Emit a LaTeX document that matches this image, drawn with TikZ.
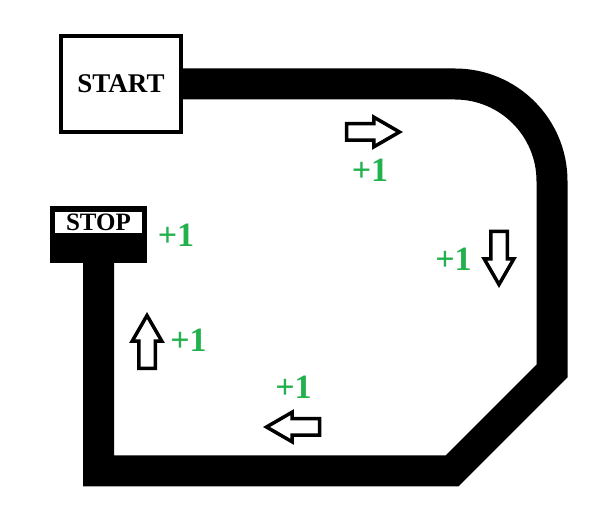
\documentclass[tikz,border=0pt]{standalone}
\usepackage{fontspec}
\setmainfont{Liberation Serif}
\usepackage{tikz}
\usetikzlibrary{shapes,arrows,positioning}
\definecolor{pointgreen}{RGB}{34,177,76}

\begin{document}
\begin{tikzpicture}[x=1pt, y=1pt,
    startbox/.style={draw, line width=4pt, fill=white, minimum width=120pt, minimum height=96pt,
      inner sep=0pt, font=\bfseries\fontsize{27}{27}\selectfont},
    stopsign/.style={fill=black, minimum width=97pt, minimum height=57pt, inner sep=0pt},
    stoplabel/.style={fill=white, minimum width=87pt, minimum height=21pt, inner sep=0pt,
      font=\bfseries\fontsize{25}{25}\selectfont},
    dir/.style={single arrow, draw, fill=white, line width=3.5pt, line join=miter, inner sep=6.5pt,
      minimum height=53pt, single arrow head extend=6.5pt, single arrow tip angle=60, anchor=tip},
    point/.style={text=pointgreen, inner sep=0pt, font=\bfseries\fontsize{34}{34}\selectfont}]
    % Sizes
    \pgfmathsetmacro{\trackw}{31}
    \useasboundingbox (0,0) rectangle (614,530);

    % boxes
    \node[startbox] (start) at (121,446) {START};
    \node[stopsign] (stop) at (98.5,295.5) {};
    \node[stoplabel, below=6pt of stop.north, anchor=north] (stoptext) {STOP};

    % track
    \coordinate (turn) at (552,159);
    \coordinate (bottom) at (452,59);
    \coordinate (corner) at (98.5,59);
    \draw[line width=\trackw pt, line join=miter]
      (start.east) -- ++(272,0) arc[start angle=90, end angle=0, radius=97]
      -- (turn) -- (bottom) -- (corner) -- (stop.south);

    % direction arrows
    \node[dir] (east) at (403,398) {};
    \node[dir, rotate=-90] (south) at (499,242) {};
    \node[dir, rotate=180] (west) at (263,103) {};
    \node[dir, rotate=90] (north) at (147,218) {};

    % points
    \node[point] (p1) at (370,360) {+1};
    \node[point] (p2) at (453.5,271) {+1};
    \node[point] (p3) at (293.5,142.5) {+1};
    \node[point] (p4) at (188.5,189.5) {+1};
    \node[point] (p5) at (176,294.5) {+1};
\end{tikzpicture}
\end{document}
